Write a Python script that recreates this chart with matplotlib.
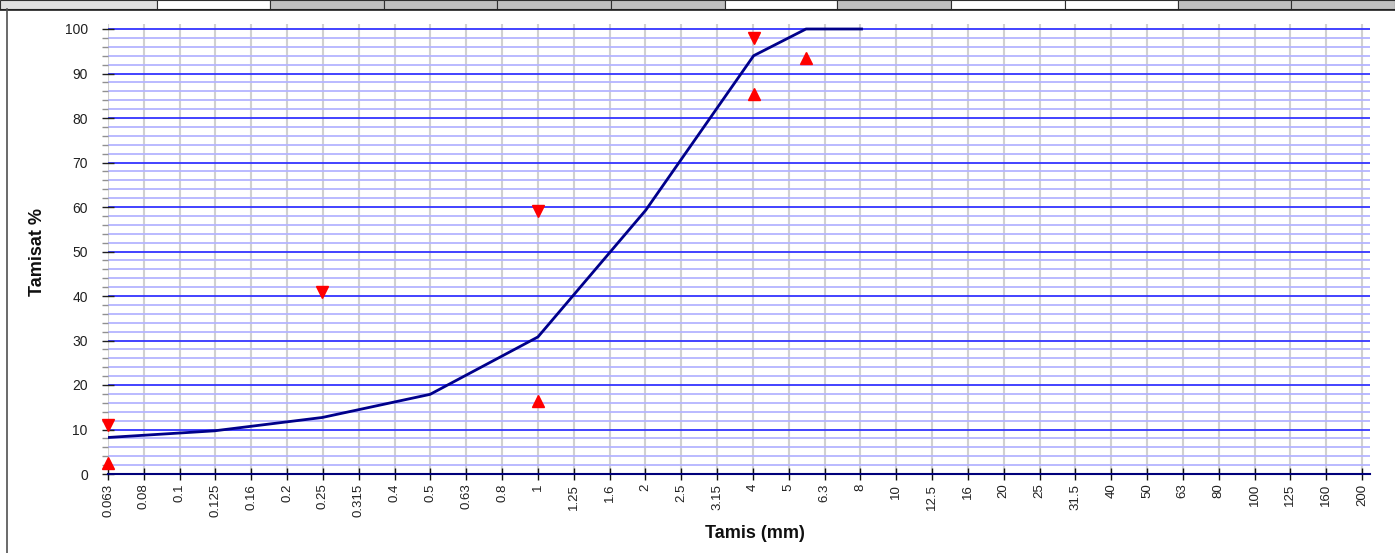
import matplotlib
matplotlib.use("Agg")
import matplotlib.pyplot as plt
import numpy as np
from matplotlib.patches import Rectangle
from matplotlib.lines import Line2D

plt.rcParams['font.family'] = ['Liberation Sans', 'DejaVu Sans']

# sieve labels on the x axis (R10 series, evenly spaced in log)
tick_labels = ["0.063", "0.08", "0.1", "0.125", "0.16", "0.2", "0.25", "0.315",
               "0.4", "0.5", "0.63", "0.8", "1", "1.25", "1.6", "2", "2.5", "3.15",
               "4", "5", "6.3", "8", "10", "12.5", "16", "20", "25", "31.5", "40",
               "50", "63", "80", "100", "125", "160", "200"]
tick_exp = np.arange(-12, 24) / 10.0

# grading curve
sieves = [0.063, 0.125, 0.25, 0.5, 1, 2, 4, 5.6, 8]
passing = [8.2, 9.7, 12.7, 17.9, 30.8, 59.3, 94.0, 100, 100]

# specification limits
upper_sieves = [0.063, 0.25, 1, 4]
upper_vals = [11, 41, 59, 98]
lower_sieves = [0.063, 1, 4, 5.6]
lower_vals = [2.5, 16.5, 85.5, 93.5]

W, H = 1395, 553
fig = plt.figure(figsize=(W / 100, H / 100), dpi=100)

# spreadsheet header strip and left border
cells = [(0, 157, '#e0e0e0'), (157, 270, 'white'), (270, 384, '#c0c0c0'),
         (384, 497, '#c0c0c0'), (497, 611, '#c0c0c0'), (611, 725, '#c0c0c0'),
         (725, 837, 'white'), (837, 951, '#c0c0c0'), (951, 1065, 'white'),
         (1065, 1178, 'white'), (1178, 1291, '#c0c0c0'), (1291, 1395, '#c0c0c0')]
strip_h = 9
for x0, x1, c in cells:
    fig.patches.append(Rectangle((x0 / W, 1 - strip_h / H), (x1 - x0) / W, strip_h / H,
                                 transform=fig.transFigure, facecolor=c,
                                 edgecolor='#303030', linewidth=0.8))
fig.add_artist(Line2D([0, 1], [1 - (strip_h + 1) / H] * 2, color='#202020', lw=1.2,
                      transform=fig.transFigure))
fig.add_artist(Line2D([6.5 / W] * 2, [0, 1 - strip_h / H], color='#505050', lw=1.2,
                      transform=fig.transFigure))

# axes: left edge at 0.063, bottom at 0
ax_l, ax_r, ax_b, ax_t = 108, 1370, 474, 24
ax = fig.add_axes([ax_l / W, (H - ax_b) / H, (ax_r - ax_l) / W, (ax_b - ax_t) / H])
ax.set_xscale('log')
ax.set_xlim(10 ** -1.2, 10 ** (2.3 + 8 / 358.3))
ax.set_ylim(0, 100 * (ax_b - ax_t) / 445.0)

ax.set_xticks(10 ** tick_exp)
ax.set_xticklabels(tick_labels, rotation=90, fontsize=9.5, color='#202020')
ax.xaxis.set_minor_locator(matplotlib.ticker.NullLocator())
ax.set_yticks(np.arange(0, 101, 10))
ax.set_yticks(np.arange(0, 101, 2), minor=True)
ax.tick_params(axis='y', which='major', direction='inout', length=9, width=1,
               color='#202020', labelsize=10, labelcolor='#202020', pad=10)
ax.tick_params(axis='y', which='minor', direction='out', length=4, width=1,
               color='#909090')
ax.tick_params(axis='x', which='major', direction='inout', length=8, width=1,
               color='#101010', pad=3)

# grid lines
ax.grid(axis='x', which='major', color='#d0d0d0', lw=1.5)
ax.grid(axis='y', which='minor', color='#b4b4ff', lw=1.3)
ax.grid(axis='y', which='major', color='#3434ff', lw=1.3)
ax.set_axisbelow(True)

for s in ['top', 'right', 'left']:
    ax.spines[s].set_visible(False)
ax.spines['bottom'].set_color('#00007a')
ax.spines['bottom'].set_linewidth(1.5)

ax.plot(sieves, passing, color='#00008b', lw=2, zorder=3)
ax.plot(upper_sieves, upper_vals, linestyle='none', marker='v', color='#ff0000',
        markersize=9, zorder=4, clip_on=False)
ax.plot(lower_sieves, lower_vals, linestyle='none', marker='^', color='#ff0000',
        markersize=9, zorder=4, clip_on=False)

fig.text(755 / W, 1 - 534 / H, "Tamis (mm)", ha='center', va='center',
         fontsize=13, fontweight='bold', color='#101010')
fig.text(38 / W, 1 - 252 / H, "Tamisat %", ha='center', va='center', rotation=90,
         fontsize=13, fontweight='bold', color='#101010')

fig.savefig("out.png", dpi=100)
